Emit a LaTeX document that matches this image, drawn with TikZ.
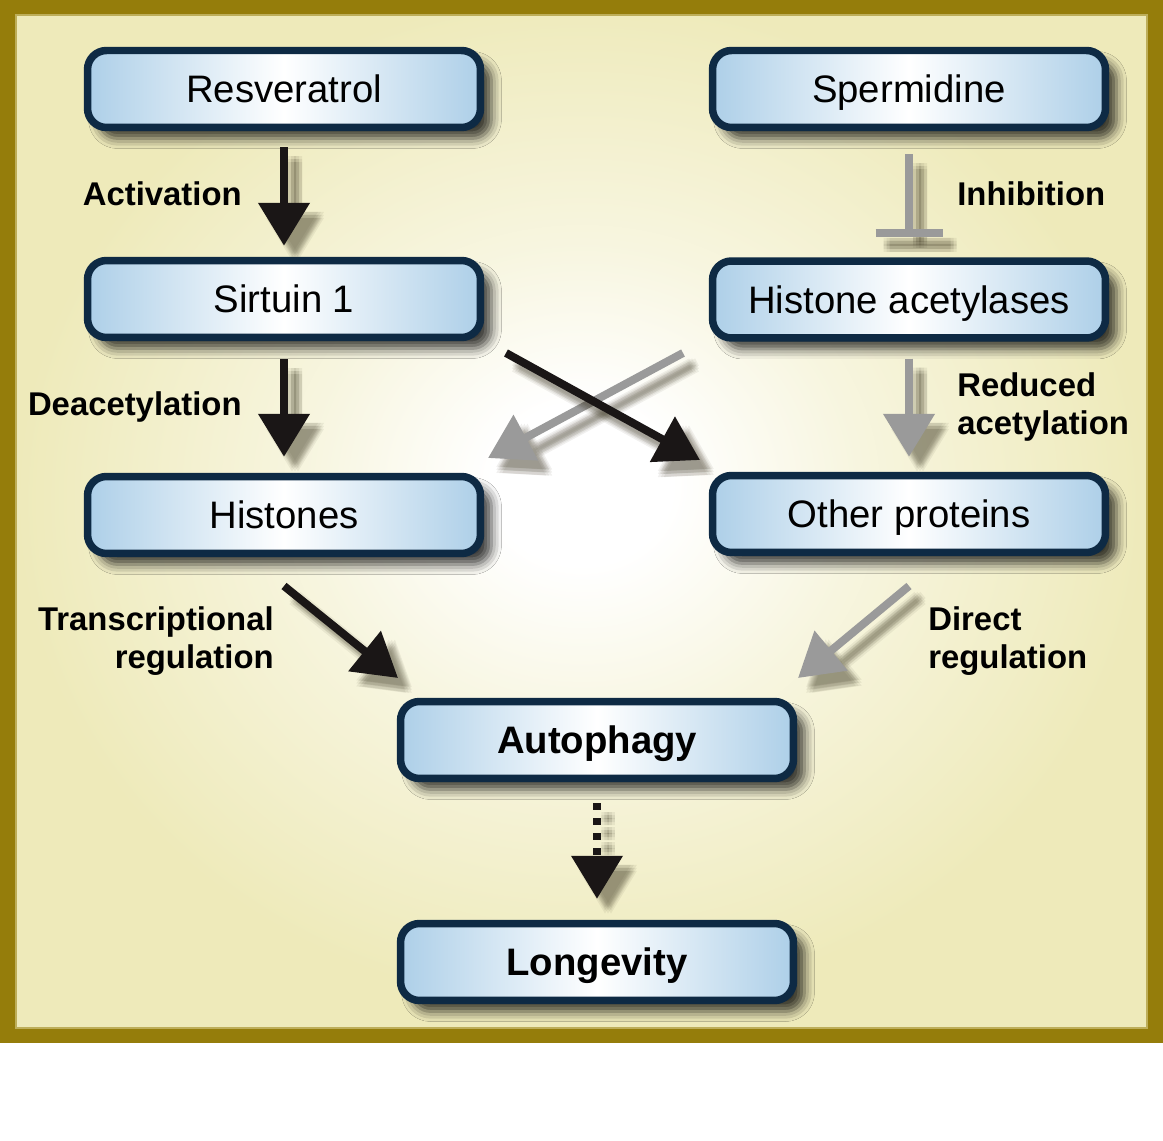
\documentclass[tikz,border=0pt]{standalone}
\usepackage{fontspec}
\setmainfont{Liberation Sans}
\usetikzlibrary{arrows.meta,shadows.blur,calc}
\definecolor{framecol}{HTML}{957D0B}
\definecolor{bgyel}{HTML}{EEEABA}
\definecolor{boxblue}{HTML}{ADCFE8}
\definecolor{boxline}{HTML}{0E2A44}
\definecolor{darr}{HTML}{1A1616}
\definecolor{garr}{HTML}{9A9A9A}
\definecolor{shcol}{HTML}{3A3520}
\pgfdeclareradialshading{bgshade}{\pgfpoint{0bp}{2bp}}{color(0bp)=(white);color(4bp)=(white);color(12bp)=(bgyel!45!white);color(25bp)=(bgyel);color(50bp)=(bgyel)}
\tikzset{
  box/.style={draw=boxline, line width=0.15cm, rounded corners=0.38cm,
    minimum width=7.86cm, minimum height=1.54cm, inner sep=0pt,
    text height=15.6pt, text depth=0pt,
    left color=boxblue, right color=boxblue, middle color=white,
    font=\fontsize{21.8pt}{26pt}\selectfont, text=black,
    blur shadow={shadow xshift=0.22cm, shadow yshift=-0.22cm, shadow blur radius=0.2cm, shadow opacity=75}},
  lab/.style={font=\bfseries\fontsize{18.7pt}{21.5pt}\selectfont, text=black, inner sep=0pt},
  onelab/.style={lab, text height=13.4pt, text depth=0pt},
  tipstyle/.style={-{Triangle[width=1cm,length=0.86cm]}},
  darrow/.style={draw=darr, line width=0.16cm, tipstyle},
  garrow/.style={draw=garr, line width=0.16cm, tipstyle},
  dotarrow/.style={draw=darr, line width=0.15cm, tipstyle, dash pattern=on 0.14cm off 0.16cm},
  gbar/.style={draw=garr, line width=0.16cm},
  shadowgrp/.style={transparency group, opacity=0.07},
}
\newcommand{\arrowpair}[3]{%
  \foreach \sx/\sy in {8/9,11/9,14/9,8/12,11/12,14/12,8/15,11/15,14/15}{%
    \begin{scope}[shadowgrp]
      \draw[#1, draw=shcol] ($(#2)+(\sx,\sy)$) -- ($(#3)+(\sx,\sy)$);
    \end{scope}}
  \draw[#1] (#2) -- (#3);}
\begin{document}
\begin{tikzpicture}[x=0.02cm,y=-0.02cm]
\useasboundingbox (0,0) rectangle (1163,1141);
\fill[white] (0,0) rectangle (1163,1141);
\fill[framecol] (0,0) rectangle (1163,1043);
\shade[shading=bgshade] (16,15) rectangle (1147,1028);
\draw[framecol!55!bgyel, line width=0.03cm] (16,15) rectangle (1147,1028);

% nodes
\node[box] (res) at (284,89) {Resveratrol};
\node[box] (spe) at (909,89) {Spermidine};
\node[box] (sir) at (284,299) {Sirtuin 1};
\node[box] (hac) at (909,299.5) {Histone acetylases};
\node[box] (his) at (284,515) {Histones};
\node[box] (oth) at (909,514) {Other proteins};
\node[box] (aut) at (597,740) {\bfseries Autophagy};
\node[box] (lon) at (597,962) {\bfseries Longevity};

% connector end points
\coordinate (a1) at ($(res.south)+(0,16)$);
\coordinate (a2) at ($(sir.north)+(0,-11)$);
\coordinate (b1) at ($(sir.south)+(0,18)$);
\coordinate (b2) at ($(his.north)+(0,-16)$);
\coordinate (c1) at (506,353);
\coordinate (c2) at (700,460);
\coordinate (d1) at (683,353);
\coordinate (d2) at (488,458);
\coordinate (e1) at ($(hac.south)+(0,17)$);
\coordinate (e2) at ($(oth.north)+(0,-15)$);
\coordinate (f1) at (284,586);
\coordinate (f2) at (398,678);
\coordinate (g1) at (909,586);
\coordinate (g2) at (798,678);
\coordinate (h1) at ($(aut.south)+(0,21)$);
\coordinate (h2) at ($(lon.north)+(0,-21)$);
\coordinate (i1) at ($(spe.south)+(0,23)$);
\coordinate (i2) at (909,233);
\coordinate (i3) at ($(i2)+(-33.5,0)$);
\coordinate (i4) at ($(i2)+(33.5,0)$);

% arrows
\arrowpair{darrow}{a1}{a2}
\arrowpair{darrow}{b1}{b2}
\arrowpair{garrow}{d1}{d2}
\arrowpair{darrow}{c1}{c2}
\arrowpair{garrow}{e1}{e2}
\arrowpair{darrow}{f1}{f2}
\arrowpair{garrow}{g1}{g2}
\arrowpair{dotarrow}{h1}{h2}
\arrowpair{gbar}{i1}{i2}
\arrowpair{gbar}{i3}{i4}

% labels
\node[onelab, anchor=east] (lact) at (242,194) {Activation};
\node[onelab, anchor=east] (ldea) at (242,404) {Deacetylation};
\node[onelab, anchor=west] (linh) at (957,194) {Inhibition};
\node[lab, anchor=west, align=left] (lred) at (957,407) {Reduced\\acetylation};
\node[lab, anchor=east, align=right] (ltra) at (274,641) {Transcriptional\\regulation};
\node[lab, anchor=west, align=left] (ldir) at (928,641) {Direct\\regulation};
\end{tikzpicture}
\end{document}
